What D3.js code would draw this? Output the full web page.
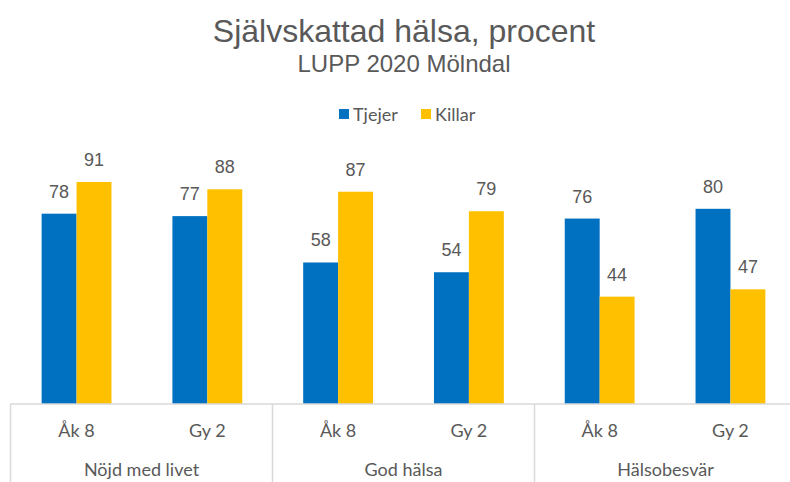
<!DOCTYPE html>
<html>
<head>
<meta charset="utf-8">
<script src="https://cdn.jsdelivr.net/npm/d3@7"></script>
<style>
	body { margin: 0; background: #fff; }
	svg { display: block; }
</style>
</head>
<body>
<div id="chart"></div>
<script>
	'use strict';

	// chart data
	var groups = ['Nöjd med livet', 'God hälsa', 'Hälsobesvär'];
	var grades = ['Åk 8', 'Gy 2'];
	var series = ['Tjejer', 'Killar'];
	var tjejer = [78, 77, 58, 54, 76, 80];
	var killar = [91, 88, 87, 79, 44, 47];
	var colors = ['#0070C0', '#FFC000'];

	var width = 790;
	var height = 482;
	var arial = '"Liberation Sans", Arial, sans-serif';
	var narrow = 'Lato, "DejaVu Sans Condensed", sans-serif';
	var textColor = '#595959';
	var lineColor = '#D9D9D9';

	var svg = d3.select('#chart')
		.append('svg')
		.attr('width', width)
		.attr('height', height);

	// one entry per bar pair
	var cats = [];
	for (var i = 0; i < groups.length; i ++) {
		for (var k = 0; k < grades.length; k ++) {
			var idx = i * grades.length + k;
			cats.push({id: idx, group: groups[i], grade: grades[k], vals: [tjejer[idx], killar[idx]]});
		}
	}

	var plot = {left: 10.5, right: 796.5, base: 404};

	var x = d3.scaleBand()
		.domain(cats.map(function (d) { return d.id; }))
		.range([plot.left, plot.right])
		.paddingInner(0.466)
		.paddingOuter(0.238);

	var xs = d3.scaleBand()
		.domain(series)
		.range([0, x.bandwidth()]);

	var y = d3.scaleLinear()
		.domain([0, 100])
		.range([plot.base, 160]);

	// title
	svg.append('text')
		.text('Självskattad hälsa, procent')
		.attr('x', 404)
		.attr('y', 42)
		.attr('text-anchor', 'middle')
		.style('font-family', arial)
		.style('font-size', '32px')
		.style('fill', textColor);

	svg.append('text')
		.text('LUPP 2020 Mölndal')
		.attr('x', 404)
		.attr('y', 72)
		.attr('text-anchor', 'middle')
		.style('font-family', arial)
		.style('font-size', '24px')
		.style('fill', textColor);

	// legend
	var legend = svg.append('g').attr('transform', 'translate(339,109)');
	var lx = [0, 82];
	series.forEach(function (s, i) {
		var g = legend.append('g').attr('transform', 'translate(' + lx[i] + ',0)');
		g.append('rect')
			.attr('width', 10)
			.attr('height', 10)
			.style('fill', colors[i]);
		g.append('text')
			.text(s)
			.attr('x', 14)
			.attr('y', 12)
			.style('font-family', narrow)
			.style('font-size', '18px')
			.style('fill', textColor);
	});

	// bars
	var cat = svg.selectAll('g.cat')
		.data(cats)
		.enter()
		.append('g')
		.attr('class', 'cat')
		.attr('transform', function (d) { return 'translate(' + x(d.id) + ',0)'; });

	var bar = cat.selectAll('g.bar')
		.data(function (d) {
			return d.vals.map(function (v, i) { return {s: series[i], v: v, c: colors[i]}; });
		})
		.enter()
		.append('g')
		.attr('class', 'bar');

	bar.append('rect')
		.attr('x', function (d) { return xs(d.s); })
		.attr('y', function (d) { return y(d.v); })
		.attr('width', xs.bandwidth())
		.attr('height', function (d) { return plot.base - y(d.v); })
		.style('fill', function (d) { return d.c; });

	bar.append('text')
		.text(function (d) { return d.v; })
		.attr('x', function (d) { return xs(d.s) + xs.bandwidth() / 2; })
		.attr('y', function (d) { return y(d.v) - 16; })
		.attr('text-anchor', 'middle')
		.style('font-family', arial)
		.style('font-size', '18px')
		.style('fill', textColor);

	// category axis
	var axis = svg.append('g').style('stroke', lineColor).style('stroke-width', 1.5);
	axis.append('line')
		.attr('x1', plot.left)
		.attr('x2', width)
		.attr('y1', plot.base)
		.attr('y2', plot.base);

	var step = (plot.right - plot.left) / groups.length;
	for (var j = 0; j <= groups.length; j ++) {
		var sx = plot.left + step * j;
		axis.append('line')
			.attr('x1', sx)
			.attr('x2', sx)
			.attr('y1', plot.base)
			.attr('y2', height);
	}

	svg.selectAll('text.grade')
		.data(cats)
		.enter()
		.append('text')
		.attr('class', 'grade')
		.text(function (d) { return d.grade; })
		.attr('x', function (d) { return x(d.id) + x.bandwidth() / 2; })
		.attr('y', 437)
		.attr('text-anchor', 'middle')
		.style('font-family', narrow)
		.style('font-size', '18px')
		.style('fill', textColor);

	svg.selectAll('text.group')
		.data(groups)
		.enter()
		.append('text')
		.attr('class', 'group')
		.text(function (d) { return d; })
		.attr('x', function (d, i) { return plot.left + step * (i + 0.5); })
		.attr('y', 476)
		.attr('text-anchor', 'middle')
		.style('font-family', narrow)
		.style('font-size', '18px')
		.style('fill', textColor);
</script>
</body>
</html>
